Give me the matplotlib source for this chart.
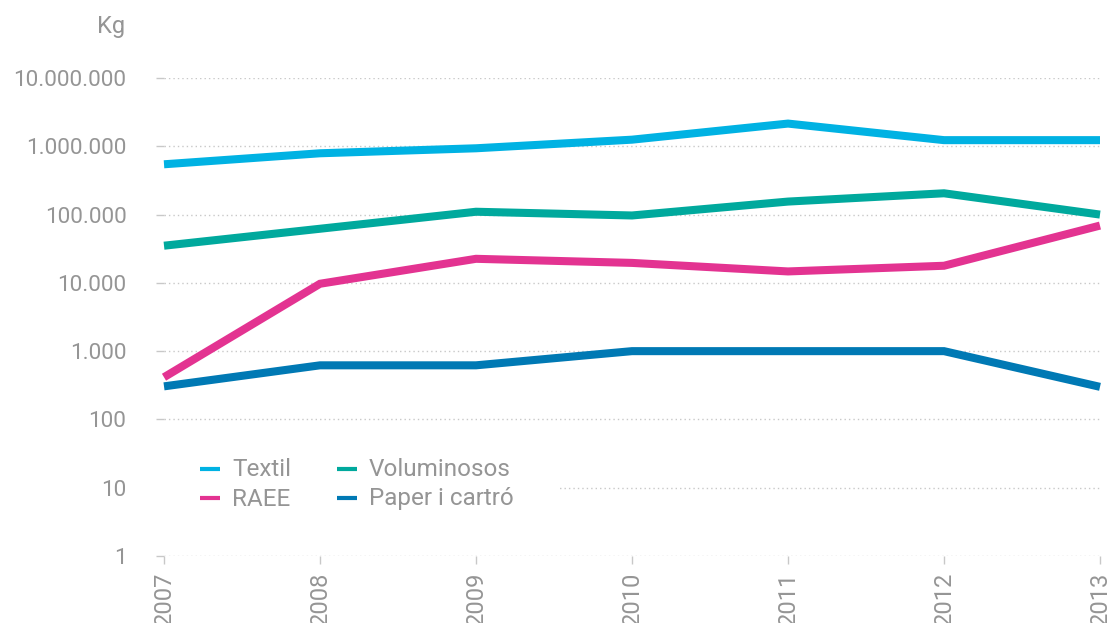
import matplotlib
matplotlib.use("Agg")
import matplotlib.pyplot as plt
from matplotlib.patches import Rectangle
from matplotlib.lines import Line2D
from matplotlib.ticker import FixedLocator, NullLocator

years = [2007, 2008, 2009, 2010, 2011, 2012, 2013]
year_labels = ["2007", "2008", "2009", "2010", "2011", "2012", "2013"]
textil = [545000, 790000, 935000, 1250000, 2150000, 1230000, 1230000]
voluminosos = [35000, 62000, 110000, 97000, 155000, 205000, 100000]
raee = [415, 9700, 22500, 19600, 14700, 17800, 69000]
paper = [305, 620, 620, 1000, 1000, 1000, 300]
series_names = ["Textil", "RAEE", "Voluminosos", "Paper i cartró"]
y_ticks = [1, 10, 100, 1000, 10000, 100000, 1000000, 10000000]
y_labels = ["1", "10", "100", "1.000", "10.000", "100.000", "1.000.000", "10.000.000"]

colors = {"Textil": "#00b2e3", "RAEE": "#e33391", "Voluminosos": "#00a99d", "Paper i cartró": "#0079b4"}
series = {"Textil": textil, "RAEE": raee, "Voluminosos": voluminosos, "Paper i cartró": paper}

plt.rcParams['font.family'] = ['Roboto', 'DejaVu Sans']
txt = "#959595"
grid_c = "#c8c8c8"
W, H = 1108, 623

fig = plt.figure(figsize=(W / 100, H / 100), dpi=100)
ax = fig.add_axes([164 / W, 1 - 556 / H, (1100 - 164) / W, (556 - 78) / H])
ax.set_yscale("log")
ax.set_ylim(1, 1e7)
ax.set_xlim(2007, 2013)

for s in ["top", "right", "left", "bottom"]:
    ax.spines[s].set_visible(False)

ax.yaxis.set_major_locator(FixedLocator(y_ticks))
ax.yaxis.set_minor_locator(NullLocator())
ax.set_yticklabels(y_labels)
ax.set_xticks(years)
ax.set_xticklabels(year_labels, rotation=90, va="top")
ax.tick_params(axis="y", length=6, width=1, color=grid_c, pad=21, labelsize=16.2, labelcolor=txt)
ax.tick_params(axis="x", length=6, width=1, color=grid_c, pad=5, labelsize=17, labelcolor=txt, direction="out")
ax.grid(axis="y", linestyle=(0, (1, 2.2)), color=grid_c, linewidth=1)
ax.set_axisbelow(True)

handles = {}
for name in ["Textil", "Voluminosos", "RAEE", "Paper i cartró"]:
    ln, = ax.plot(years, series[name], color=colors[name], lw=5.8, solid_joinstyle="miter",
                  solid_capstyle="butt", clip_on=False, zorder=3, label=name)
    handles[name] = ln

# white box behind legend (hides gridline)
ax.add_patch(Rectangle((150 / W, 1 - 515 / H), (557 - 150) / W, (515 - 450) / H,
                       transform=fig.transFigure, facecolor="white", edgecolor="none",
                       zorder=2, clip_on=False))

# legend (two columns)
leg_pos = {"Textil": (200, 469), "RAEE": (200, 498), "Voluminosos": (337, 469), "Paper i cartró": (337, 498)}
for name in series_names:
    x0, y0 = leg_pos[name]
    fig.add_artist(Line2D([x0 / W, (x0 + 20) / W], [1 - y0 / H, 1 - y0 / H], transform=fig.transFigure,
                          color=colors[name], lw=3, solid_capstyle="butt"))
    fig.text((x0 + 32) / W, 1 - (y0 + 1) / H, name, ha="left", va="center", fontsize=17.5, color=txt)

fig.text(125 / W, 1 - 27 / H, "Kg", ha="right", va="center", fontsize=17, color=txt)

fig.savefig("out.png", dpi=100)
